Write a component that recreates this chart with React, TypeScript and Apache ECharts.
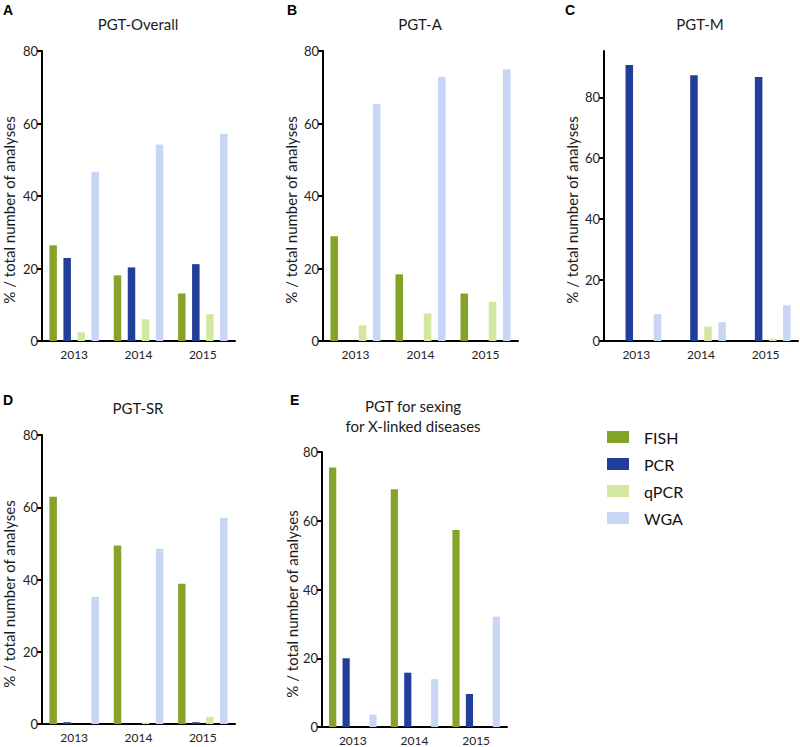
import React, { useEffect, useRef } from "react";
import * as echarts from "echarts";

const years = ["2013", "2014", "2015"];
const methods = ["FISH", "PCR", "qPCR", "WGA"];
const yTicks = [0, 20, 40, 60, 80];

// PGT-Overall
const overallFISH = [26.4, 18.1, 13.1];
const overallPCR = [22.9, 20.3, 21.2];
const overallQPCR = [2.4, 6.0, 7.4];
const overallWGA = [46.7, 54.2, 57.2];
// PGT-A
const aFISH = [28.9, 18.4, 13.1];
const aPCR = [0, 0, 0];
const aQPCR = [4.3, 7.6, 10.8];
const aWGA = [65.4, 72.9, 75.0];
// PGT-M
const mFISH = [0, 0, 0];
const mPCR = [90.6, 87.2, 86.7];
const mQPCR = [0, 4.8, 0.7];
const mWGA = [8.8, 6.2, 11.7];
// PGT-SR
const srFISH = [62.9, 49.4, 38.8];
const srPCR = [0.5, 0, 0.5];
const srQPCR = [0, 0.4, 2.0];
const srWGA = [35.2, 48.5, 57.1];
// PGT for sexing
const sexFISH = [75.5, 69.2, 57.3];
const sexPCR = [20.0, 15.8, 9.6];
const sexQPCR = [0, 0, 0];
const sexWGA = [3.6, 13.9, 32.1];

const panelTitles = ["PGT-Overall", "PGT-A", "PGT-M", "PGT-SR", "PGT for sexing\nfor X-linked diseases"];
const panelLetters = ["A", "B", "C", "D", "E"];
const yName = "% / total number of analyses";

const panelData = [
  [overallFISH, overallPCR, overallQPCR, overallWGA],
  [aFISH, aPCR, aQPCR, aWGA],
  [mFISH, mPCR, mQPCR, mWGA],
  [srFISH, srPCR, srQPCR, srWGA],
  [sexFISH, sexPCR, sexQPCR, sexWGA],
];
const panelMax = [80, 80, 95.2, 80, 80];

const colors = ["#85a32b", "#213f98", "#d4e7a0", "#c9d5f4"];
const FONT = "Lato, 'Open Sans', sans-serif";

const grids = [
  { left: 42, top: 51, width: 193, height: 290 },
  { left: 323, top: 51, width: 195, height: 290 },
  { left: 604, top: 51, width: 194, height: 290 },
  { left: 42, top: 435, width: 193, height: 289 },
  { left: 322, top: 452, width: 185, height: 275 },
];
const titlePos = [
  [138, 24],
  [420, 24],
  [700, 24],
  [138, 408],
  [413, 416],
];
const letterPos = [
  [3, 10],
  [287, 10],
  [565, 10],
  [3, 400],
  [290, 400],
];
const namePos = [
  [9, 210],
  [291, 210],
  [572, 210],
  [9, 594],
  [292, 604],
];

export default function App() {
  const ref = useRef<HTMLDivElement>(null);
  useEffect(() => {
    if (!ref.current) return;
    const chart = echarts.init(ref.current, null, { renderer: "svg" });
    const series: any[] = [];
    panelData.forEach((pd, gi) => {
      pd.forEach((vals, mi) => {
        series.push({
          type: "bar",
          name: methods[mi],
          xAxisIndex: gi,
          yAxisIndex: gi,
          data: vals,
          barGap: "87%",
          barCategoryGap: "23%",
          itemStyle: { color: colors[mi] },
        });
      });
    });
    const graphic: any[] = [];
    panelTitles.forEach((t, i) => {
      graphic.push({
        type: "text",
        x: titlePos[i][0],
        y: titlePos[i][1],
        style: {
          text: t,
          align: "center",
          verticalAlign: "middle",
          font: `15px ${FONT}`,
          fill: "#1a1a1a",
          lineHeight: 20,
        },
      });
      graphic.push({
        type: "text",
        x: letterPos[i][0],
        y: letterPos[i][1],
        style: {
          text: panelLetters[i],
          align: "left",
          verticalAlign: "middle",
          font: `bold 14px 'Liberation Sans', Arial, sans-serif`,
          fill: "#000",
        },
      });
      graphic.push({
        type: "text",
        x: namePos[i][0],
        y: namePos[i][1],
        rotation: Math.PI / 2,
        style: {
          text: yName,
          align: "center",
          verticalAlign: "middle",
          font: `15px ${FONT}`,
          fill: "#1a1a1a",
        },
      });
    });
    chart.setOption({
      animation: false,
      textStyle: { fontFamily: FONT },
      legend: {
        data: methods,
        orient: "vertical",
        left: 607,
        top: 429,
        padding: 0,
        itemWidth: 22,
        itemHeight: 12,
        itemGap: 11,
        icon: "rect",
        selectedMode: false,
        textStyle: { fontSize: 16, color: "#111", fontFamily: FONT, padding: [0, 0, 0, 10] },
      },
      grid: grids.map((g) => ({ ...g, containLabel: false, outerBoundsMode: "none" })),
      xAxis: grids.map((_, i) => ({
        type: "category",
        gridIndex: i,
        data: years,
        axisLine: { lineStyle: { color: "#000", width: 2 } },
        axisTick: { alignWithLabel: true, length: 4, lineStyle: { color: "#000", width: 2 } },
        axisLabel: { color: "#222", fontSize: 12, margin: 7, fontFamily: FONT },
        splitLine: { show: false },
      })),
      yAxis: grids.map((_, i) => ({
        type: "value",
        gridIndex: i,
        min: 0,
        max: panelMax[i],
        axisLine: { show: true, lineStyle: { color: "#000", width: 2 } },
        axisTick: { show: true, length: 5, customValues: yTicks, lineStyle: { color: "#000", width: 2 } },
        axisLabel: { color: "#222", fontSize: 13, margin: 4, customValues: yTicks, fontFamily: FONT },
        splitLine: { show: false },
      })),
      graphic,
      series,
    });
    return () => chart.dispose();
  }, []);
  return (
    <div
      ref={ref}
      style={{ position: "fixed", left: 0, top: 0, width: 800, height: 747, background: "#fff" }}
    />
  );
}
